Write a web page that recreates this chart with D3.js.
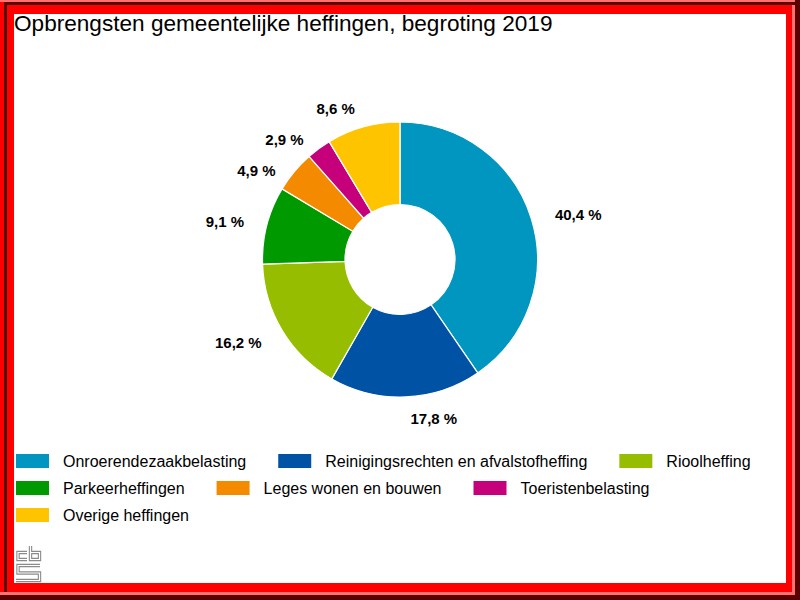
<!DOCTYPE html>
<html lang="nl">
<head>
<meta charset="UTF-8">
<script src="https://d3js.org/d3.v7.min.js"></script>
<title>Opbrengsten gemeentelijke heffingen</title>
<style>
  body { margin: 0; background: #fff; }
  svg { display: block; font-family: "Liberation Sans", Arial, sans-serif; }
</style>
</head>
<body>
<script>
    var categories = ["Onroerendezaakbelasting", "Reinigingsrechten en afvalstofheffing", "Rioolheffing",
                      "Parkeerheffingen", "Leges wonen en bouwen", "Toeristenbelasting", "Overige heffingen"];
    var values = [40.4, 17.8, 16.2, 9.1, 4.9, 2.9, 8.6];
    var colors = ["#0096bf", "#0052a5", "#97bd00", "#009a00", "#f38a00", "#c6007a", "#ffc400"];
    var title = "Opbrengsten gemeentelijke heffingen, begroting 2019";

    var w = 800;
    var h = 600;
    var cx = 400, cy = 259.5;
    var outerRadius = 137.5;
    var innerRadius = 55;
    var labelRadius = 158;

    var svg = d3.select("body")
                .append("svg")
                .attr("width", w)
                .attr("height", h);

    // red frame round the picture
    svg.append("rect").attr("width", w).attr("height", h).attr("fill", "#ff0000");
    svg.append("rect").attr("x", 0).attr("y", 0).attr("width", w).attr("height", 2).attr("fill", "#ff7070");
    svg.append("rect").attr("x", 4).attr("y", 2).attr("width", w - 4).attr("height", 3).attr("fill", "#5a0000");
    svg.append("rect").attr("x", 4).attr("y", 2).attr("width", 3).attr("height", 592).attr("fill", "#5a0000");
    svg.append("rect").attr("x", 792).attr("y", 5).attr("width", 3).attr("height", 590).attr("fill", "#ff7070");
    svg.append("rect").attr("x", 0).attr("y", 592).attr("width", 795).attr("height", 3).attr("fill", "#ff7070");
    svg.append("rect").attr("x", 795).attr("y", 0).attr("width", 5).attr("height", h).attr("fill", "#5a0000");
    svg.append("rect").attr("x", 0).attr("y", 595).attr("width", w).attr("height", 5).attr("fill", "#5a0000");
    svg.append("rect").attr("x", 14).attr("y", 14).attr("width", 772).attr("height", 569).attr("fill", "#fff");

    svg.append("text")
       .attr("x", 14)
       .attr("y", 31)
       .attr("font-size", "22.6px")
       .attr("fill", "#000")
       .text(title);

    var pie = d3.pie().sort(null);
    var arc = d3.arc().innerRadius(innerRadius).outerRadius(outerRadius);

    var arcs = pie(values);

    var g = svg.append("g").attr("transform", "translate(" + cx + "," + cy + ")");

    g.selectAll("path.slice")
     .data(arcs)
     .enter()
     .append("path")
     .attr("class", "slice")
     .attr("d", arc)
     .attr("fill", function(d, i) { return colors[i]; })
     .attr("stroke", "#fff")
     .attr("stroke-width", 1.2);

    // label positions, pushed apart on each side when they get too close
    var labels = arcs.map(function(d, i) {
        var a = (d.startAngle + d.endAngle) / 2;
        return {
            text: String(values[i]).replace(".", ",") + " %",
            right: Math.sin(a) >= 0,
            x: labelRadius * Math.sin(a),
            y: -labelRadius * Math.cos(a)
        };
    });
    [true, false].forEach(function(side) {
        var list = labels.filter(function(l) { return l.right === side; })
                         .sort(function(a, b) { return a.y - b.y; });
        for (var k = 1; k < list.length; k++) {
            if (list[k].y - list[k - 1].y < 31) list[k].y = list[k - 1].y + 31;
        }
    });

    g.selectAll("text.label")
     .data(labels)
     .enter()
     .append("text")
     .attr("class", "label")
     .attr("x", function(d) { return d.right ? d.x + 4 : d.x - 3; })
     .attr("y", function(d) { return d.y; })
     .attr("dy", "0.45em")
     .attr("text-anchor", function(d) { return d.right ? "start" : "end"; })
     .attr("font-size", "15px")
     .attr("font-weight", "bold")
     .attr("fill", "#000")
     .text(function(d) { return d.text; });

    // legend, items flow left to right and wrap
    var legend = svg.append("g");
    var lx = 16, ly = 454, rowH = 27, maxX = 785;
    categories.forEach(function(c, i) {
        var item = legend.append("g");
        item.append("rect")
            .attr("width", 33)
            .attr("height", 14)
            .attr("fill", colors[i]);
        var t = item.append("text")
            .attr("x", 47)
            .attr("y", 13)
            .attr("font-size", "16px")
            .attr("fill", "#000")
            .text(c);
        var itemW = 47 + t.node().getComputedTextLength();
        if (lx + itemW > maxX) {
            lx = 16;
            ly += rowH;
        }
        item.attr("transform", "translate(" + lx + "," + ly + ")");
        lx += itemW + 32;
    });

    // cbs logo
    var logo = svg.append("g").attr("fill", "none").attr("stroke-linejoin", "miter");
    var logoPaths = [
        "M27,552.5 H18 V559.5 H27",
        "M30.5,546 V559.5 H39.5 V552.5 H31",
        "M40,565.5 H18 V573 H39.5 V580.5 H16"
    ];
    logoPaths.forEach(function(p) {
        logo.append("path").attr("d", p).attr("stroke", "#8a8a8a").attr("stroke-width", 3.4);
    });
    logoPaths.forEach(function(p) {
        logo.append("path").attr("d", p).attr("stroke", "#fff").attr("stroke-width", 1.2);
    });
</script>
</body>
</html>
